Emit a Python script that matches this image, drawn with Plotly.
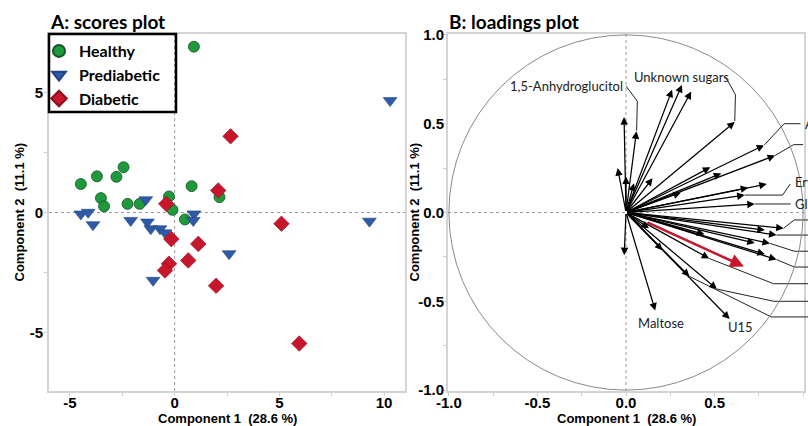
import plotly.graph_objects as go

W, H = 808, 426

# ---------------- Data: scores plot ----------------
healthy_x = [0.92, -4.48, -3.71, -2.78, -2.44, -3.52, -3.37, -2.25, -1.67, -0.27, -0.10, 0.81, 2.14, 0.49]
healthy_y = [6.92, 1.19, 1.51, 1.49, 1.89, 0.60, 0.26, 0.36, 0.36, 0.67, 0.11, 1.10, 0.64, -0.29]
pre_x = [10.29, -4.48, -4.13, -3.90, -2.10, -1.38, -1.30, -1.14, -0.70, -0.46, -1.03, 0.92, 0.89, 2.60, 9.30]
pre_y = [4.67, -0.06, 0.01, -0.51, -0.33, 0.53, -0.40, -0.68, -0.68, -0.85, -2.83, -0.06, -0.33, -1.72, -0.36]
dia_x = [2.67, 2.08, -0.40, 5.10, -0.16, 1.13, -0.27, -0.46, 0.65, 1.98, 5.95]
dia_y = [3.18, 0.92, 0.36, -0.47, -1.11, -1.31, -2.14, -2.42, -2.00, -3.06, -5.47]

# ---------------- Data: loadings plot ----------------
load_x = [-0.011, 0.059, -0.047, 0.0, 0.045, 0.15, 0.26, 0.316, 0.368, 0.614, 0.476, 0.538, 0.78, 0.842,
          0.31, 0.795, 0.69, 0.67, 0.727,
          -0.01, 0.165, 0.585, 0.13, 0.206, 0.358, 0.513, 0.443, 0.47, 0.89, 0.784, 0.85, 0.727, 0.813,
          0.784, 0.85]
load_y = [0.537, 0.457, 0.25, 0.202, 0.165, 0.193, 0.691, 0.718, 0.681, 0.51, 0.255, 0.22, 0.379, 0.321,
          0.112, 0.16, 0.14, 0.098, 0.048,
          -0.24, -0.552, -0.599, -0.089, -0.212, -0.36, -0.431, -0.123, -0.259, -0.089, -0.099, -0.127,
          -0.172, -0.174, -0.235, -0.265]
red_x = [0.112, 0.666]
red_y = [-0.052, -0.304]

# leader lines (polylines)
leaders_x = [
    [0.0, 0.064, 0.06],
    [0.562, 0.618, 0.614],
    [0.78, 0.893, 0.985],
    [0.842, 0.946, 1.0],
    [0.67, 0.884, 0.927],
    [0.727, 0.93],
    [0.89, 0.95, 1.03],
    [0.85, 1.03],
    [0.813, 0.95, 1.03],
    [0.85, 0.95, 1.03],
    [0.47, 0.833, 1.03],
    [0.513, 0.835, 1.03],
    [0.358, 0.82, 1.03],
]
leaders_y = [
    [0.711, 0.627, 0.461],
    [0.764, 0.663, 0.515],
    [0.379, 0.5, 0.5],
    [0.321, 0.382, 0.382],
    [0.098, 0.098, 0.16],
    [0.048, 0.048],
    [-0.089, -0.042, -0.042],
    [-0.127, -0.127],
    [-0.174, -0.218, -0.218],
    [-0.265, -0.307, -0.307],
    [-0.259, -0.401, -0.401],
    [-0.431, -0.5, -0.5],
    [-0.36, -0.588, -0.588],
]
tail_y = [-0.042, -0.127, -0.218, -0.307, -0.401, -0.5, -0.588]

label_text = ["1,5-Anhydroglucitol", "Unknown sugars", "Maltose", "U15", "A", "I", "Ery", "Glu"]
label_x = [-0.008, 0.035, 0.196, 0.645, 1.0, 1.017, 0.944, 0.944]
label_y = [0.711, 0.764, -0.624, -0.643, 0.5, 0.382, 0.172, 0.048]
label_anchor = ["right", "left", "center", "center", "left", "left", "left", "left"]

# ---------------- Layout geometry ----------------
def px_x(p):
    return p / W

def px_y(p):
    return 1 - p / H

x1_dom = [px_x(49), px_x(405)]
x2_dom = [px_x(448), px_x(804)]
y_dom = [px_y(391), px_y(34)]

green = "#1f9a3b"
blue = "#2e5aa8"
red = "#c8172c"

fig = go.Figure()
fig.add_trace(go.Scatter(x=healthy_x, y=healthy_y, mode="markers", name="Healthy",
                         marker=dict(symbol="circle", size=11, color=green,
                                     line=dict(color="#14532a", width=0.8)),
                         xaxis="x", yaxis="y"))
fig.add_trace(go.Scatter(x=pre_x, y=pre_y, mode="markers", name="Prediabetic",
                         marker=dict(symbol="triangle-down", size=12, color=blue,
                                     line=dict(color="#23457f", width=0.6)),
                         xaxis="x", yaxis="y"))
fig.add_trace(go.Scatter(x=dia_x, y=dia_y, mode="markers", name="Diabetic",
                         marker=dict(symbol="diamond", size=12, color=red,
                                     line=dict(color="#8c1020", width=0.6)),
                         xaxis="x", yaxis="y"))

for lx, ly in zip(leaders_x, leaders_y):
    fig.add_trace(go.Scatter(x=lx, y=ly, mode="lines", showlegend=False, hoverinfo="skip",
                             line=dict(color="#222222", width=1), xaxis="x2", yaxis="y2"))

annotations = []
for ex, ey in zip(load_x, load_y):
    annotations.append(dict(x=ex, y=ey, ax=0, ay=0, xref="x2", yref="y2", axref="x2", ayref="y2",
                            showarrow=True, arrowhead=2, arrowsize=1.2, arrowwidth=1.25,
                            arrowcolor="black", standoff=0, text=""))
annotations.append(dict(x=red_x[1], y=red_y[1], ax=red_x[0], ay=red_y[0], xref="x2", yref="y2",
                        axref="x2", ayref="y2", showarrow=True, arrowhead=2, arrowsize=1.1,
                        arrowwidth=2.5, arrowcolor=red, standoff=0, text=""))

lab_font = dict(family="Lato", size=13, color="#222222")
for t, lx, ly, an in zip(label_text, label_x, label_y, label_anchor):
    annotations.append(dict(x=lx, y=ly, xref="x2", yref="y2", text=t, showarrow=False,
                            xanchor=an, yanchor="middle", font=lab_font))

title_font = dict(family="Lato", size=19, color="black", weight="bold")
annotations.append(dict(x=px_x(48), y=px_y(22), xref="paper", yref="paper", text="A: scores plot",
                        showarrow=False, xanchor="left", yanchor="middle", font=title_font))
annotations.append(dict(x=px_x(447), y=px_y(22), xref="paper", yref="paper", text="B: loadings plot",
                        showarrow=False, xanchor="left", yanchor="middle", font=title_font))

axt_font = dict(family="Liberation Sans", size=13, color="black", weight="bold")
for xr in ["x domain", "x2 domain"]:
    annotations.append(dict(x=0.5, y=px_y(418), xref=xr, yref="paper", text="Component 1  (28.6 %)",
                            showarrow=False, xanchor="center", yanchor="middle", font=axt_font))
for xp in [19, 414]:
    annotations.append(dict(x=px_x(xp), y=0.5, xref="paper", yref="y domain", text="Component 2  (11.1 %)",
                            showarrow=False, xanchor="center", yanchor="middle", textangle=-90,
                            font=axt_font))

shapes = []
# unit circle
shapes.append(dict(type="circle", xref="x2", yref="y2", x0=-1, y0=-1, x1=1, y1=1,
                   line=dict(color="#8a8a8a", width=1)))
# dotted zero lines
for xr, yr in [("x", "y"), ("x2", "y2")]:
    shapes.append(dict(type="line", xref=xr + " domain", yref=yr, x0=0, x1=1, y0=0, y1=0,
                       line=dict(color="#999999", width=1, dash="dot"), layer="below"))
    shapes.append(dict(type="line", xref=xr, yref=yr + " domain", x0=0, x1=0, y0=0, y1=1,
                       line=dict(color="#999999", width=1, dash="dot"), layer="below"))
# leader tails beyond the plot frame
for ty in tail_y:
    shapes.append(dict(type="line", xref="paper", yref="y2", x0=x2_dom[1], x1=1.0, y0=ty, y1=ty,
                       line=dict(color="#222222", width=1)))
# legend frame
shapes.append(dict(type="rect", xref="paper", yref="paper", x0=px_x(49), x1=px_x(176),
                   y0=px_y(112), y1=px_y(34), line=dict(color="black", width=2.5),
                   fillcolor="rgba(0,0,0,0)"))

tick_font = dict(family="Liberation Sans", size=15, color="black", weight="bold")
axis_common = dict(showline=True, mirror=True, linecolor="#d4d4d4", linewidth=2,
                   ticks="outside", ticklen=3, tickcolor="#cfcfcf", tickwidth=1,
                   showgrid=False, zeroline=False, tickfont=tick_font, automargin=False)

fig.update_layout(
    width=W, height=H,
    margin=dict(l=0, r=0, t=0, b=0, autoexpand=False),
    paper_bgcolor="white", plot_bgcolor="white",
    showlegend=True,
    legend=dict(x=px_x(39), y=px_y(34), xanchor="left", yanchor="top",
                borderwidth=0, bgcolor="rgba(0,0,0,0)",
                font=dict(family="Lato", size=16, color="black", weight="bold"),
                itemsizing="constant"),
    xaxis=dict(domain=x1_dom, range=[-6, 11], tickvals=[-5, 0, 5, 10], ticktext=["-5", "0", "5", "10"],
               minor=dict(dtick=2.5, tick0=0, ticks="outside", ticklen=3, tickcolor="#cfcfcf"),
               anchor="y", ticklabelstandoff=-6, **axis_common),
    yaxis=dict(domain=y_dom, range=[-7.45, 7.45], tickvals=[-5, 0, 5], ticktext=["-5", "0", "5"],
               minor=dict(dtick=2.5, tick0=0, ticks="outside", ticklen=3, tickcolor="#cfcfcf"),
               anchor="x", ticklabelstandoff=-2, **axis_common),
    xaxis2=dict(domain=x2_dom, range=[-1.005, 1.005], tickvals=[-1, -0.5, 0, 0.5, 1],
                ticktext=["-1.0", "-0.5", "0.0", "0.5", "1.0"],
                minor=dict(dtick=0.25, tick0=0, ticks="outside", ticklen=3, tickcolor="#cfcfcf"),
                anchor="y2", ticklabelstandoff=-6, **axis_common),
    yaxis2=dict(domain=y_dom, range=[-1.005, 1.005], tickvals=[-1, -0.5, 0, 0.5, 1],
                ticktext=["-1.0", "-0.5", "0.0", "0.5", "1.0"],
                minor=dict(dtick=0.25, tick0=0, ticks="outside", ticklen=3, tickcolor="#cfcfcf"),
                anchor="x2", ticklabelstandoff=-4, **axis_common),
    annotations=annotations,
    shapes=shapes,
)

fig.write_html("out.html")
